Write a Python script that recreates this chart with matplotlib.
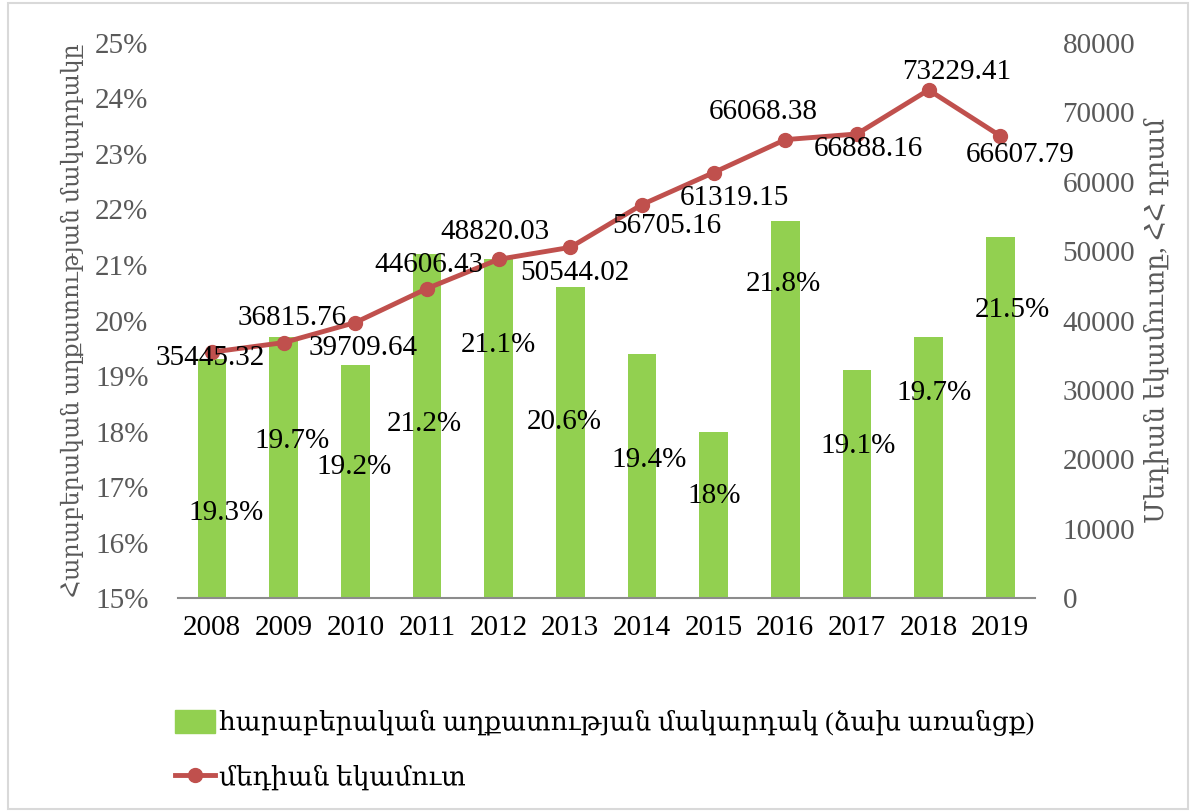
import matplotlib
matplotlib.use("Agg")
import matplotlib.pyplot as plt
from matplotlib.patches import Rectangle
from matplotlib.lines import Line2D
from matplotlib.ticker import FuncFormatter

years = ["2008", "2009", "2010", "2011", "2012", "2013",
         "2014", "2015", "2016", "2017", "2018", "2019"]
poverty = [19.3, 19.7, 19.2, 21.2, 21.1, 20.6, 19.4, 18.0, 21.8, 19.1, 19.7, 21.5]
poverty_labels = ["19.3%", "19.7%", "19.2%", "21.2%", "21.1%", "20.6%",
                  "19.4%", "18%", "21.8%", "19.1%", "19.7%", "21.5%"]
income = [35445.32, 36815.76, 39709.64, 44606.43, 48820.03, 50544.02,
          56705.16, 61319.15, 66068.38, 66888.16, 73229.41, 66607.79]

# label offsets in pixels (Excel labels were dragged around by hand)
bar_off = [(14, -154), (8, -104), (-1, -102), (-3, -170), (0, -86), (-6, -135),
           (7, -106), (1, -64), (-2, -63), (1, -76), (5, -56), (12, -73)]
line_off = [(-2, -6), (8, 25), (8, -25), (2, 24), (-4, 27), (5, -26),
            (25, -21), (21, -25), (-22, 28), (11, -15), (28, 18), (20, -19)]

GREEN = "#92D050"
RED = "#C0504D"
GREY = "#595959"
FONT = ["Liberation Serif", "DejaVu Serif"]
plt.rcParams["font.family"] = FONT

fig = plt.figure(figsize=(11.92, 8.11), dpi=100)
fig.patches.append(Rectangle((0.007, 0.003), 0.99, 0.993, transform=fig.transFigure,
                             fill=False, edgecolor="#d9d9d9", linewidth=1.5))

ax = fig.add_axes([0.149, 0.2626, 0.719, 0.6844])
x = list(range(len(years)))
ax.bar(x, poverty, width=0.4, color=GREEN, zorder=2)
ax.set_ylim(15, 25)
ax.set_xlim(-0.48, len(years) - 0.52)
ax.set_yticks(range(15, 26))
ax.yaxis.set_major_formatter(FuncFormatter(lambda v, p: f"{int(v)}%"))
ax.set_xticks(x)
ax.set_xticklabels(years)
for s in ["top", "right", "left"]:
    ax.spines[s].set_visible(False)
ax.spines["bottom"].set_color("#8c8c8c")
ax.spines["bottom"].set_linewidth(1.5)
ax.tick_params(axis="y", length=0, labelsize=21, labelcolor=GREY, pad=21)
ax.tick_params(axis="x", length=0, labelsize=21, labelcolor="black", pad=12)
ax.set_ylabel("Հարաբերական աղքատության մակարդակը", fontsize=17, color=GREY, labelpad=8)

ax2 = ax.twinx()
ax2.plot(x, income, color=RED, linewidth=3.5, marker="o", markersize=10, zorder=3)
ax2.set_ylim(0, 80000)
ax2.set_yticks(range(0, 80001, 10000))
for s in ["top", "right", "left", "bottom"]:
    ax2.spines[s].set_visible(False)
ax2.tick_params(axis="y", length=0, labelsize=21, labelcolor=GREY, pad=20)
ax2.set_ylabel("Մեդիան եկամուտը, ՀՀ դրամ", fontsize=19, color=GREY, labelpad=6)

for i in x:
    ax2.annotate(poverty_labels[i], xy=(i, poverty[i]), xycoords=ax.transData,
                 xytext=bar_off[i], textcoords="offset pixels",
                 ha="center", va="center", fontsize=21, zorder=5)
    ax2.annotate(f"{income[i]:.2f}", xy=(i, income[i]), xytext=line_off[i],
                 textcoords="offset pixels", ha="center", va="center",
                 fontsize=21, zorder=5)

handles = [Rectangle((0, 0), 1, 1, color=GREEN),
           Line2D([0], [0], color=RED, linewidth=3.5, marker="o", markersize=10)]
labels = ["հարաբերական աղքատության մակարդակ (ձախ առանցք)", "մեդիան եկամուտ"]
fig.legend(handles, labels, loc="upper left", bbox_to_anchor=(0.138, 0.138),
           frameon=False, fontsize=19, handlelength=1.5, handleheight=1.0,
           handletextpad=0.15, labelspacing=1.05, borderaxespad=0)

fig.savefig("out.png", dpi=100)
